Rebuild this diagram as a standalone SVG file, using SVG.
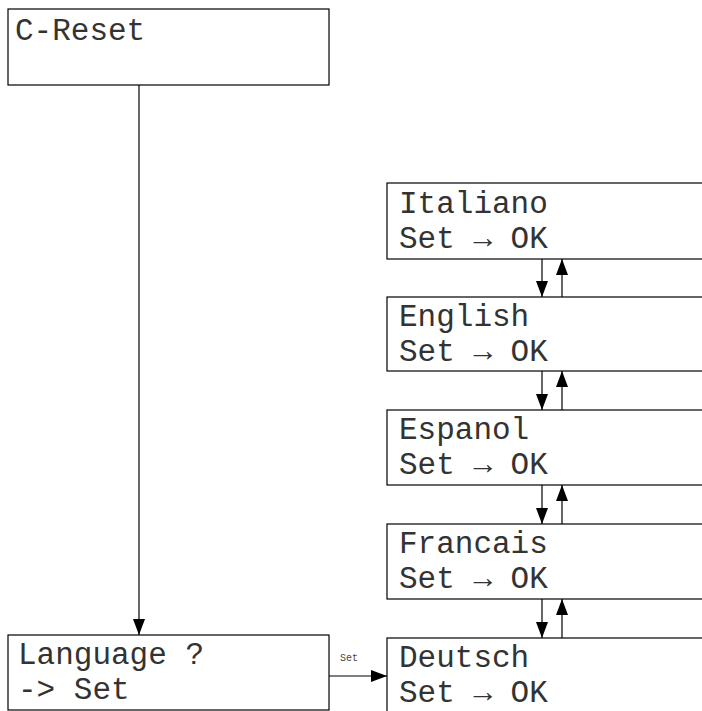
<svg xmlns="http://www.w3.org/2000/svg" width="702" height="711" viewBox="0 0 702 711">
<style>
.box{fill:#fff;stroke:#000;stroke-width:1.2}
.t{font-family:"Liberation Mono","DejaVu Sans Mono",monospace;font-size:31px;fill:#333}
.lbl{font-family:"Liberation Mono","DejaVu Sans Mono",monospace;font-size:10px;fill:#444}
.c{stroke:#000;stroke-width:1.2;fill:none}
</style>
<defs>
<marker id="ah" markerWidth="16" markerHeight="12" refX="16" refY="6" orient="auto" markerUnits="userSpaceOnUse">
<path d="M0,0 L16,6 L0,12 Z" fill="#000"/>
</marker>
</defs>
<rect width="702" height="711" fill="#fff"/>
<g id="connectors">
<line class="c" x1="139" y1="85" x2="139" y2="635" marker-end="url(#ah)"/>
<line class="c" x1="329" y1="676" x2="387" y2="676" marker-end="url(#ah)"/>
<text class="lbl" x="340" y="661">Set</text>
<line class="c" x1="542" y1="259" x2="542" y2="297" marker-end="url(#ah)"/>
<line class="c" x1="562" y1="297" x2="562" y2="259" marker-end="url(#ah)"/>
<line class="c" x1="542" y1="371" x2="542" y2="410" marker-end="url(#ah)"/>
<line class="c" x1="562" y1="410" x2="562" y2="371" marker-end="url(#ah)"/>
<line class="c" x1="542" y1="485" x2="542" y2="524" marker-end="url(#ah)"/>
<line class="c" x1="562" y1="524" x2="562" y2="485" marker-end="url(#ah)"/>
<line class="c" x1="542" y1="599" x2="542" y2="638" marker-end="url(#ah)"/>
<line class="c" x1="562" y1="638" x2="562" y2="599" marker-end="url(#ah)"/>
</g>
<g id="creset">
<rect class="box" x="8" y="9" width="321" height="76"/>
<text class="t" x="15" y="40">C-Reset</text>
</g>
<g id="language">
<rect class="box" x="8" y="635" width="321" height="75"/>
<text class="t" x="18" y="664">Language ?</text>
<text class="t" x="18" y="699">-&gt; Set</text>
</g>
<g id="italiano">
<rect class="box" x="387" y="183" width="340" height="76"/>
<text class="t" x="399" y="213">Italiano</text>
<text class="t" x="399" y="248">Set → OK</text>
</g>
<g id="english">
<rect class="box" x="387" y="297" width="340" height="74"/>
<text class="t" x="399" y="326">English</text>
<text class="t" x="399" y="361">Set → OK</text>
</g>
<g id="espanol">
<rect class="box" x="387" y="410" width="340" height="75"/>
<text class="t" x="399" y="439">Espanol</text>
<text class="t" x="399" y="474">Set → OK</text>
</g>
<g id="francais">
<rect class="box" x="387" y="524" width="340" height="75"/>
<text class="t" x="399" y="553">Francais</text>
<text class="t" x="399" y="588">Set → OK</text>
</g>
<g id="deutsch">
<rect class="box" x="387" y="638" width="340" height="80"/>
<text class="t" x="399" y="667">Deutsch</text>
<text class="t" x="399" y="702">Set → OK</text>
</g>
</svg>
